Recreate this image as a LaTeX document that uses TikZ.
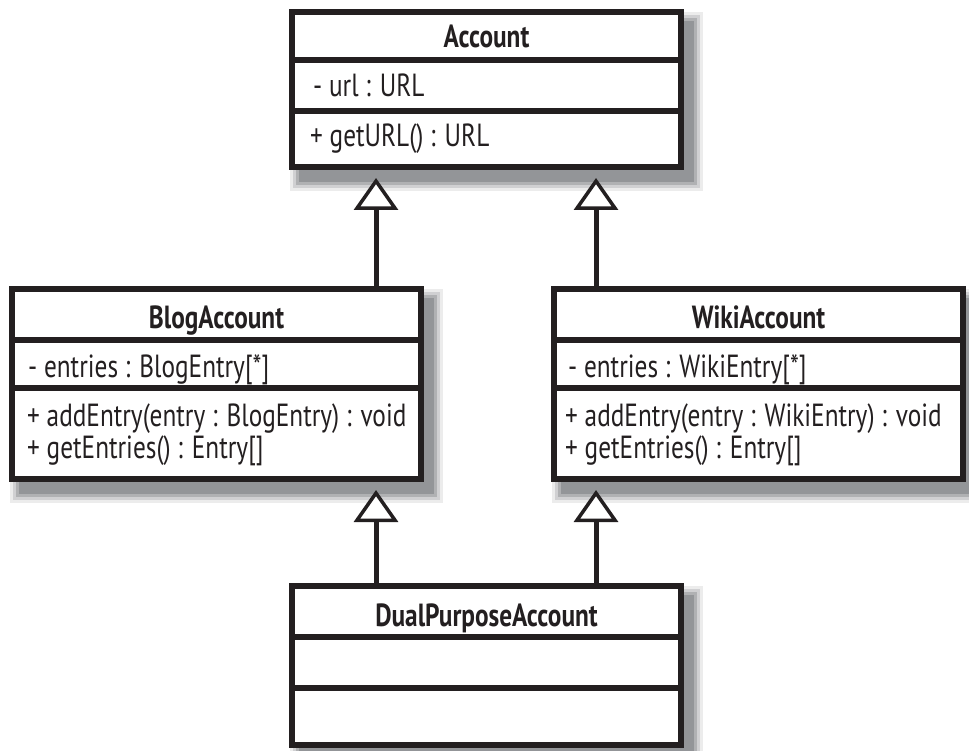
\documentclass[tikz,border=0pt]{standalone}
\usepackage{fontspec}
\setmainfont{PT Sans}[FakeStretch=0.79]
\usetikzlibrary{arrows.meta,calc}
\definecolor{ink}{HTML}{231F20}
\definecolor{shA}{HTML}{939598}
\definecolor{shB}{HTML}{B0B1B3}
\definecolor{shC}{HTML}{D0D0D2}
\definecolor{shD}{HTML}{ECECEC}
\newcommand{\umlshadow}[4]{%
  \fill[shD] (#1+1,#2+3) rectangle (#3+19,#4+21);
  \fill[shC] (#1+4,#2+6) rectangle (#3+16,#4+18);
  \fill[shB] (#1+7,#2+9) rectangle (#3+13,#4+15);
  \fill[shA] (#1+10,#2+12) rectangle (#3+10,#4+12);
}
\tikzset{
  classbox/.style={draw=ink, fill=white, line width=6pt, rectangle, inner sep=0pt, outer sep=0pt, anchor=north west},
  divider/.style={draw=ink, line width=6pt},
  title/.style={inner sep=0pt, anchor=base, font=\fontsize{32}{30}\selectfont\bfseries, text=ink},
  member/.style={inner sep=0pt, anchor=base west, font=\fontsize{32}{30}\selectfont, text=ink},
  inherit/.style={draw=ink, line width=5pt, -{Triangle[length=32pt, width=44pt, fill=white, line width=3.5pt]}, shorten >=11pt},
}
\begin{document}
\begin{tikzpicture}[x=1pt, y=-1pt]
\useasboundingbox (0,0) rectangle (969,751);
% shadows
\umlshadow{289}{9}{684}{170}
\umlshadow{9}{286}{424}{482}
\umlshadow{551}{286}{966}{482}
\umlshadow{289}{583}{684}{748}
% boxes
\node[classbox, minimum width=389pt, minimum height=155pt] (acc) at (292,12) {};
\node[classbox, minimum width=409pt, minimum height=190pt] (blog) at (12,289) {};
\node[classbox, minimum width=409pt, minimum height=190pt] (wiki) at (554,289) {};
\node[classbox, minimum width=389pt, minimum height=159pt] (dual) at (292,586) {};
% dividers
\draw[divider] (acc.west |- 0,60) -- (acc.east |- 0,60);
\draw[divider] (acc.west |- 0,111) -- (acc.east |- 0,111);
\draw[divider] (blog.west |- 0,340) -- (blog.east |- 0,340);
\draw[divider] (blog.west |- 0,388) -- (blog.east |- 0,388);
\draw[divider] (wiki.west |- 0,340) -- (wiki.east |- 0,340);
\draw[divider] (wiki.west |- 0,388) -- (wiki.east |- 0,388);
\draw[divider] (dual.west |- 0,637) -- (dual.east |- 0,637);
\draw[divider] (dual.west |- 0,688) -- (dual.east |- 0,688);
% texts
\node[title] (accT) at (486.5,48) {Account};
\node[member] (accA) at (313,97) {- url : URL};
\node[member] (accO) at (310,147) {+ getURL() : URL};
\node[title] (blogT) at (216.5,328) {BlogAccount};
\node[member] (blogA) at (28,377) {- entries : BlogEntry[*]};
\node[member] (blogO1) at (27,426) {+ addEntry(entry : BlogEntry) : void};
\node[member] (blogO2) at (27,458) {+ getEntries() : Entry[]};
\node[title] (wikiT) at (758.5,328) {WikiAccount};
\node[member] (wikiA) at (568,377) {- entries : WikiEntry[*]};
\node[member] (wikiO1) at (565,426) {+ addEntry(entry : WikiEntry) : void};
\node[member] (wikiO2) at (565,458) {+ getEntries() : Entry[]};
\node[title] (dualT) at (486.5,626) {DualPurposeAccount};
% connectors
\coordinate (cl) at (376,0);
\coordinate (cr) at (596,0);
\draw[inherit] (blog.north -| cl) -- (acc.south -| cl);
\draw[inherit] (wiki.north -| cr) -- (acc.south -| cr);
\draw[inherit] (dual.north -| cl) -- (blog.south -| cl);
\draw[inherit] (dual.north -| cr) -- (wiki.south -| cr);
\end{tikzpicture}
\end{document}
